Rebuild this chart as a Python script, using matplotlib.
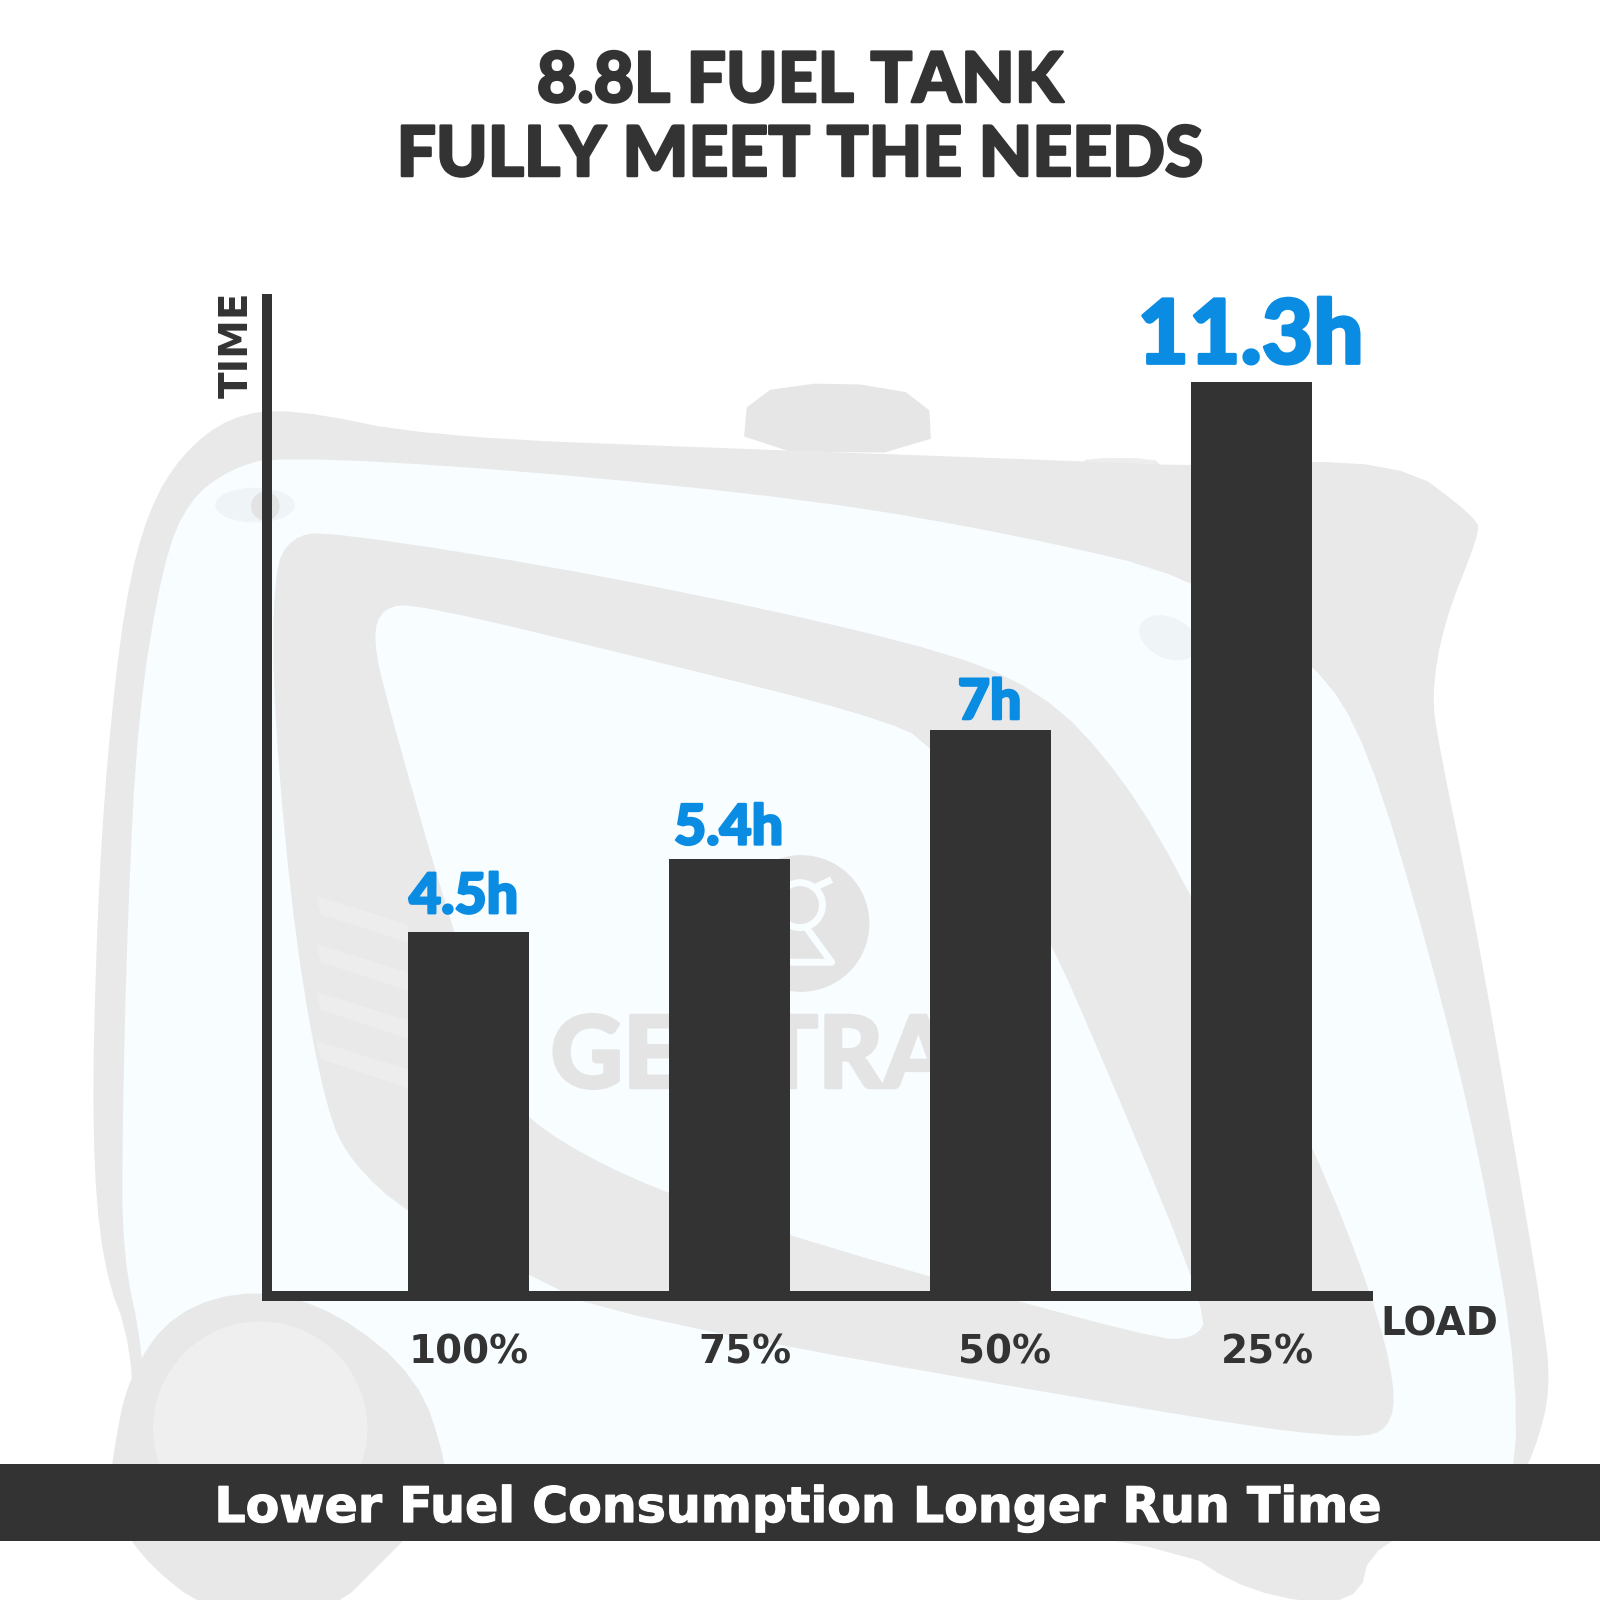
import matplotlib
matplotlib.use("Agg")
import matplotlib.pyplot as plt
import matplotlib.patheffects as pe
from matplotlib.patches import Polygon, Circle, Ellipse

loads = ["100%", "75%", "50%", "25%"]
hours = [4.5, 5.4, 7, 11.3]
value_labels = ["4.5h", "5.4h", "7h", "11.3h"]
title_lines = ["8.8L FUEL TANK", "FULLY MEET THE NEEDS"]
banner = "Lower Fuel Consumption Longer Run Time"

DARK = "#333333"
BLUE = "#0A8CE2"
GREY = "#E9E9E9"
PALE = "#F8FDFF"
HEAVY = "Lato"
WIDE = "DejaVu Sans"

def thick(color, px_width):
    return [pe.withStroke(linewidth=px_width*0.72, foreground=color)]

fig = plt.figure(figsize=(16, 16), dpi=100, facecolor="white")

# background illustration, in 1568-unit picture coordinates
bg = fig.add_axes([0, 0, 1, 1], zorder=0)
bg.set_xlim(0, 1568); bg.set_ylim(1568, 0); bg.axis("off")

def smooth(pts, rounds=3):
    for _ in range(rounds):
        out = []
        for i in range(len(pts)):
            a, b = pts[i], pts[(i+1) % len(pts)]
            out.append((0.75*a[0]+0.25*b[0], 0.75*a[1]+0.25*b[1]))
            out.append((0.25*a[0]+0.75*b[0], 0.25*a[1]+0.75*b[1]))
        pts = out
    return pts

def poly(pts, color, z=1, rounds=3):
    bg.add_patch(Polygon(smooth(pts, rounds), closed=True, fc=color, ec="none", zorder=z))

poly([(728,442),(733,385),(820,373),(910,388),(913,444)], "#E6E6E6", 1, 1)
poly([(1060,455),(1065,449),(1130,449),(1140,458)], "#EDEDED", 1, 1)
poly([(130,1320),(100,1240),(90,1110),(95,900),(105,740),(122,590),(145,500),(178,445),(225,408),
      (285,400),(420,428),(730,440),(1060,452),(1170,457),(1370,450),(1448,508),(1449,525),
      (1415,610),(1403,680),(1410,730),(1445,900),(1480,1100),(1512,1290),(1520,1360),(1505,1420),
      (1480,1470),(1345,1510),(1330,1575),(1225,1562),(1145,1510),(600,1450),(130,1435)], GREY, 2, 2)
poly([(120,1100),(125,900),(135,700),(160,550),(185,490),(225,460),(270,447),(500,460),(800,490),
      (1000,525),(1170,565),(1290,650),(1340,730),(1400,930),(1450,1130),(1490,1360),(1478,1490),
      (150,1490),(140,1320),(120,1230)], PALE, 3, 2)
poly([(268,560),(285,527),(320,520),(600,565),(900,630),(1020,675),(1100,760),(1170,880),(1290,1130),
      (1345,1270),(1368,1360),(1362,1400),(1330,1410),(1200,1395),(600,1290),(520,1250),(400,1190),
      (345,1140),(320,1090),(290,930),(268,700)], GREY, 4, 2)
poly([(365,625),(375,595),(410,592),(650,650),(850,700),(920,730),(1020,900),(1090,1060),(1185,1290),
      (1170,1312),(1130,1312),(800,1220),(640,1165),(550,1120),(500,1080),(440,900),(380,690)], PALE, 5, 2)
bg.add_patch(Ellipse((250,495), 78, 34, fc="#EFF5F7", ec="none", zorder=6))
bg.add_patch(Circle((260,496), 14, fc="#E3E3E3", ec="none", zorder=7))
bg.add_patch(Ellipse((1145,625), 60, 40, angle=25, fc="#EFF5F7", ec="none", zorder=6))
for y0 in (878, 925, 972, 1020):
    poly([(310,y0),(400,y0+28),(400,y0+46),(314,y0+18)], "#EDEDED", 6, 0)
poly([(110,1430),(125,1350),(170,1285),(250,1262),(330,1285),(410,1350),(438,1435),(435,1470),
      (385,1520),(320,1585),(210,1585),(130,1520),(108,1460)], "#E8E8E8", 7, 2)
bg.add_patch(Circle((255,1400), 105, fc="#EFEFEF", ec="none", zorder=8))
bg.add_patch(Circle((785,905), 67, fc="#E4E4E4", ec="none", zorder=8))
bg.add_patch(Circle((784,887), 22, fc="#E4E4E4", ec=PALE, lw=5, zorder=9))
bg.plot([800,815], [869,862], color=PALE, lw=5, zorder=9, solid_capstyle="butt")
bg.plot([791,815,740], [910,943,943], color=PALE, lw=5, zorder=9, solid_capstyle="butt")
bg.text(737, 1066, "GENTRA", fontsize=72, family=HEAVY, weight="black", color="#E4E4E4",
        ha="center", va="baseline", zorder=8, path_effects=thick("#E4E4E4", 3))
bg.add_patch(Polygon([(0,1435),(1568,1435),(1568,1510),(0,1510)], closed=True, fc=DARK, ec="none", zorder=10))

# chart axes: x and y scales fixed so that the bars land where the reference has them
px = 1600.0
left, right, base, top = 266.5, 1368.0, 1296.0, 299.0
ax = fig.add_axes([left/px, 1-base/px, (right-left)/px, (base-top)/px], zorder=2)
ax.patch.set_alpha(0)
ax.set_xlim((left-468.5)/261.0, (right-468.5)/261.0)
ax.set_ylim(0, (base-top)/80.85)
ax.bar(range(4), hours, width=121/261.0, color=DARK, linewidth=0, zorder=2)
for s in ("top", "right"):
    ax.spines[s].set_visible(False)
for s in ("left", "bottom"):
    ax.spines[s].set_linewidth(7.2)
    ax.spines[s].set_color(DARK)
ax.set_xticks([]); ax.set_yticks([])

label_dx = [0, 15, 14, 16]
value_dx = [-5, -1, -1, -1]
value_sizes = [40, 40, 40, 64]
value_pad = [19, 15, 11, 19]
for i, (h, t) in enumerate(zip(hours, value_labels)):
    ax.annotate(t, (i, h), xytext=(value_dx[i]*0.72, value_pad[i]*0.72), textcoords="offset points",
                ha="center", va="baseline", fontsize=value_sizes[i], family=HEAVY, weight="black",
                color=BLUE, annotation_clip=False, path_effects=thick(BLUE, 2.5 if i < 3 else 3))
    ax.annotate(loads[i], (i, 0), xytext=(label_dx[i]*0.72, -68*0.72), textcoords="offset points",
                ha="center", va="baseline", fontsize=28, family=WIDE, weight="bold",
                color=DARK, annotation_clip=False)

# overlay text in 1600-pixel coordinates
fig.text(800/px, 1-102/px, title_lines[0], ha="center", va="baseline", fontsize=50, family=HEAVY,
         weight="black", color=DARK, path_effects=thick(DARK, 2.5))
fig.text(800/px, 1-176/px, title_lines[1], ha="center", va="baseline", fontsize=50, family=HEAVY,
         weight="black", color=DARK, path_effects=thick(DARK, 2.5))
fig.text(256/px, 1-345/px, "TIME", rotation=90, ha="right", va="center", rotation_mode="default",
         fontsize=28, family=WIDE, weight="bold", color=DARK)
fig.text(1439/px, 1-1335/px, "LOAD", ha="center", va="baseline", fontsize=28, family=WIDE, weight="bold", color=DARK)
fig.text(798/px, 1-1522/px, banner, ha="center", va="baseline", fontsize=35.3, family=WIDE, weight="bold",
         color="white", zorder=5, path_effects=thick("white", 1.2))

fig.savefig("out.png", dpi=100, facecolor="white")
